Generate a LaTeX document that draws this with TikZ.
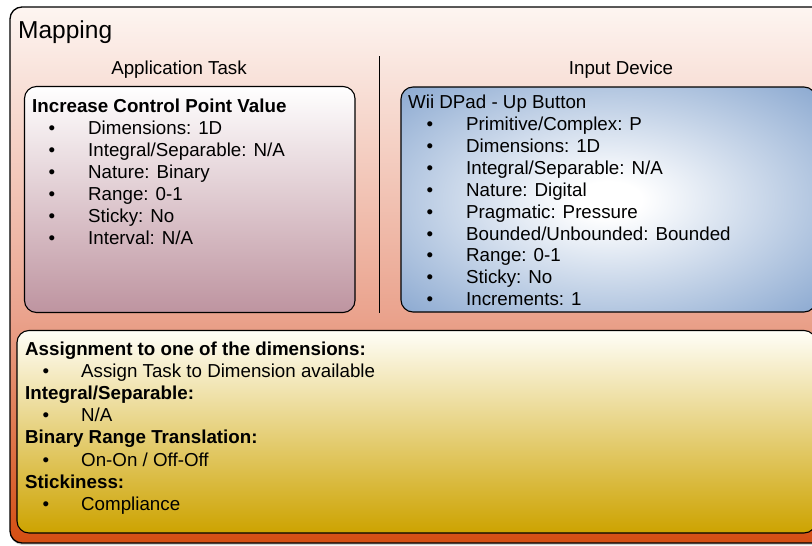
\documentclass[tikz,border=0pt]{standalone}
\usepackage{fontspec}
\setmainfont{Liberation Sans}
\usetikzlibrary{shadows}

% palette
\definecolor{mapTop}{RGB}{253,245,241}
\definecolor{mapMid}{RGB}{234,162,140}
\definecolor{mapBot}{RGB}{212,78,18}
\definecolor{taskBot}{RGB}{190,148,160}
\definecolor{devEdge}{RGB}{138,168,208}
\definecolor{assignTop}{RGB}{255,254,248}
\definecolor{assignMid}{RGB}{234,215,150}
\definecolor{assignBot}{RGB}{205,163,0}

\pgfdeclareverticalshading{mapshade}{100bp}{color(0bp)=(mapBot); color(25bp)=(mapBot);
  color(46bp)=(mapMid); color(75bp)=(mapTop); color(100bp)=(mapTop)}
\pgfdeclareradialshading{devshade}{\pgfpoint{0bp}{0bp}}{color(0bp)=(white); color(4bp)=(white);
  color(36bp)=(devEdge); color(50bp)=(devEdge)}

\newcommand{\bodysize}{\fontsize{18.75}{22}\selectfont}

\begin{document}
\begin{tikzpicture}[x=1pt,y=-1pt,
  panel/.style={draw=black, line width=1.1pt, rounded corners=12pt},
  heading/.style={font=\fontsize{24.5}{28}\selectfont, anchor=base west, inner sep=0pt},
  caption/.style={font=\bodysize, anchor=base, inner sep=0pt},
  body/.style={font=\bodysize, anchor=base west, inner sep=0pt},
  bodybf/.style={body, font=\bodysize\bfseries},
  dot/.style={font=\bodysize, anchor=base, inner sep=0pt}]

\useasboundingbox (0,0) rectangle (812,546);

% outer mapping frame
\path[panel, line width=1.3pt, shading=mapshade,
      drop shadow={shadow xshift=0.5pt, shadow yshift=-2pt, opacity=0.25, fill=black!70}]
  (10,7) rectangle (832,543);
\node[heading] (title) at (18,38) {Mapping};

% column headers and divider
\node[caption] (taskhead) at (179,74) {Application Task};
\node[caption] (devhead) at (621,74) {Input Device};
\coordinate (divtop) at (379,56);
\coordinate (divbot) at (379,313);
\draw[line width=1pt] (divtop) -- (divbot);

% application task panel
\path[panel, top color=white, bottom color=taskBot] (24.5,86.5) rectangle (355,312.5);
\node[bodybf] (task) at (32,112) {Increase Control Point Value};
\foreach \i/\t in {0/{Dimensions: 1D}, 1/{Integral/Separable: N/A}, 2/{Nature: Binary},
                   3/{Range: 0-1}, 4/{Sticky: No}, 5/{Interval: N/A}} {
  \node[dot] (taskdot\i) at (52,134+22*\i) {•};
  \node[body] (taskitem\i) at (88,134+22*\i) {\t};
}

% input device panel
\path[panel, shading=devshade] (401,87) rectangle (816,312);
\node[body] (dev) at (408,108.5) {Wii DPad - Up Button};
\foreach \i/\t in {0/{Primitive/Complex: P}, 1/{Dimensions: 1D}, 2/{Integral/Separable: N/A},
                   3/{Nature: Digital}, 4/{Pragmatic: Pressure}, 5/{Bounded/Unbounded: Bounded},
                   6/{Range: 0-1}, 7/{Sticky: No}, 8/{Increments: 1}} {
  \node[dot] (devdot\i) at (430,130.5+21.9*\i) {•};
  \node[body] (devitem\i) at (466,130.5+21.9*\i) {\t};
}

% mapping rules panel
\path[panel, top color=assignTop, middle color=assignMid, bottom color=assignBot]
  (17,330.5) rectangle (816,533);
\foreach \i/\h/\t in {0/{Assignment to one of the dimensions:}/{Assign Task to Dimension available},
                      1/{Integral/Separable:}/{N/A},
                      2/{Binary Range Translation:}/{On-On / Off-Off},
                      3/{Stickiness:}/{Compliance}} {
  \node[bodybf] (rulehead\i) at (25,355.5+44.2*\i) {\h};
  \node[dot] (ruledot\i) at (46,377.6+44.2*\i) {•};
  \node[body] (ruleitem\i) at (81,377.6+44.2*\i) {\t};
}
\end{tikzpicture}
\end{document}
